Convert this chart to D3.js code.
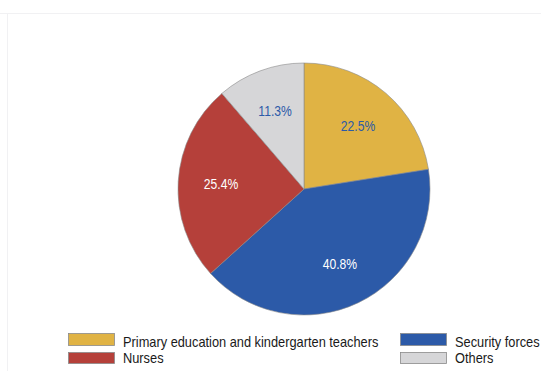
<!DOCTYPE html>
<html>
<head>
<meta charset="utf-8">
<script src="https://cdn.jsdelivr.net/npm/d3@7"></script>
<style>
  html, body { margin: 0; padding: 0; background: #ffffff; }
  svg { display: block; font-family: "Liberation Sans", Arial, sans-serif; }
</style>
</head>
<body>
<svg id="chart" width="541" height="371"></svg>
<script>
// Share of workers by occupation group
const categories = [
  "Primary education and kindergarten teachers",
  "Security forces",
  "Nurses",
  "Others"
];
const shares = [22.5, 40.8, 25.4, 11.3];
const sliceColors = ["#e0b344", "#2c5aa8", "#b5403a", "#d6d6d8"];
const labelColors = ["#2c5aa8", "#ffffff", "#ffffff", "#2c5aa8"];
const legendOrder = [0, 1, 2, 3];

const svg = d3.select("#chart");
const W = 541, H = 371;

// faint outer frame
svg.append("line").attr("x1", 0).attr("x2", W).attr("y1", 13.5).attr("y2", 13.5)
  .attr("stroke", "#f1f1f3").attr("stroke-width", 1);
svg.append("line").attr("x1", 7.5).attr("x2", 7.5).attr("y1", 13).attr("y2", H)
  .attr("stroke", "#f1f1f3").attr("stroke-width", 1);

const cx = 304, cy = 189, R = 126;
const data = categories.map((c, i) => ({ name: c, value: shares[i], i }));

const pie = d3.pie().sort(null).value(d => d.value);
const arc = d3.arc().innerRadius(0).outerRadius(R);
const labelArc = d3.arc().innerRadius(R * 0.66).outerRadius(R * 0.66);

const g = svg.append("g").attr("transform", `translate(${cx},${cy})`);
const arcs = pie(data);

g.selectAll("path.slice").data(arcs).enter().append("path")
  .attr("class", "slice")
  .attr("d", arc)
  .attr("fill", d => sliceColors[d.data.i])
  .attr("stroke", "#8a8a8a")
  .attr("stroke-width", 0.6);

// percentage labels, set in a slightly condensed face
g.selectAll("text.pct").data(arcs).enter().append("text")
  .attr("class", "pct")
  .attr("transform", d => `translate(${labelArc.centroid(d)}) scale(0.88,1)`)
  .attr("text-anchor", "middle")
  .attr("dy", "0.36em")
  .attr("font-size", 13.8)
  .attr("fill", d => labelColors[d.data.i])
  .text(d => d3.format(".1f")(d.data.value) + "%");

// legend: two columns, two rows
const legendX = [68, 400], swatchY = [333, 352], textY = [347, 363];
const legend = svg.append("g");
legendOrder.forEach((k, n) => {
  const col = n === 0 || n === 2 ? 0 : 1;
  const row = n < 2 ? 0 : 1;
  const item = legend.append("g")
    .attr("transform", `translate(${legendX[col]},0)`);
  item.append("rect").attr("x", 0.5).attr("y", swatchY[row] + 0.5)
    .attr("width", 46).attr("height", row === 0 ? 12 : 11)
    .attr("fill", sliceColors[k]).attr("stroke", "#8a8a8a").attr("stroke-width", 0.8);
  item.append("text")
    .attr("transform", `translate(55,${textY[row]}) scale(0.915,1)`)
    .attr("font-size", 14)
    .attr("fill", "#1a1a1a")
    .text(categories[k]);
});
</script>
</body>
</html>
